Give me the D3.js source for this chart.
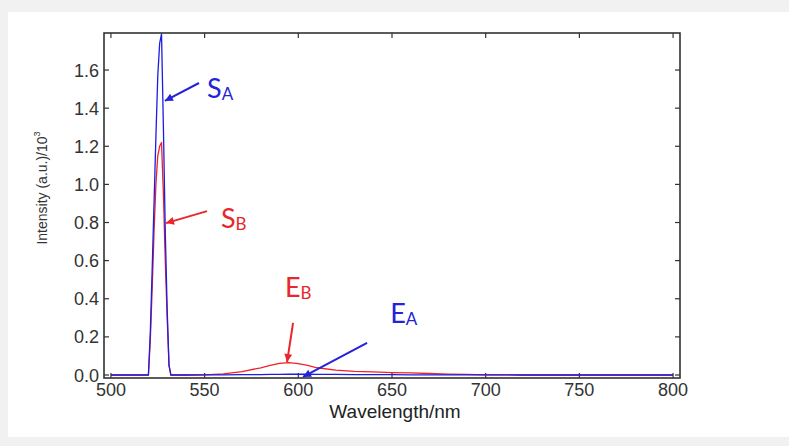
<!DOCTYPE html>
<html>
<head>
<meta charset="utf-8">
<script src="https://cdn.jsdelivr.net/npm/d3@7"></script>
<style>
  html, body { margin: 0; padding: 0; background: #f1f1f1; }
  svg { display: block; }
</style>
</head>
<body>
<script>
// wavelength grid (nm)
const wavelengths = [500, 510, 519, 520, 521, 522, 523, 524, 525, 526, 527, 528, 529, 530, 531, 532, 540, 550, 560, 570, 580, 585, 590, 595, 600, 605, 610, 620, 630, 640, 650, 660, 670, 680, 690, 700, 720, 750, 800];

// intensity (a.u.)/10^3
const seriesA = [0, 0, 0, 0, 0.22, 0.55, 0.9, 1.25, 1.57, 1.74, 1.79, 1.3, 0.75, 0.35, 0.05, 0, 0, 0.001, 0.001, 0.002, 0.002, 0.003, 0.003, 0.004, 0.004, 0.004, 0.003, 0.003, 0.002, 0.002, 0.002, 0.001, 0.001, 0.001, 0.001, 0.001, 0, 0, 0];
const seriesB = [0, 0, 0, 0, 0.18, 0.45, 0.75, 1.0, 1.15, 1.2, 1.22, 0.95, 0.6, 0.3, 0.05, 0, 0, 0.001, 0.006, 0.018, 0.038, 0.05, 0.061, 0.065, 0.06, 0.05, 0.038, 0.026, 0.019, 0.016, 0.013, 0.011, 0.008, 0.005, 0.003, 0.001, 0, 0, 0];

const xTicks = [500, 550, 600, 650, 700, 750, 800];
const yTicks = [0, 0.2, 0.4, 0.6, 0.8, 1.0, 1.2, 1.4, 1.6];

// annotation labels: text anchor and arrow (from -> to), in data units
const annotations = [
  { main: "S", sub: "A", color: "#2323d8", tx: 551.3, ty: 1.453, from: [547, 1.532], to: [528.8, 1.438] },
  { main: "S", sub: "B", color: "#e8262b", tx: 558.7, ty: 0.771, from: [551.3, 0.86], to: [529.4, 0.797] },
  { main: "E", sub: "B", color: "#e8262b", tx: 592.9, ty: 0.409, from: [597.2, 0.273], to: [594, 0.068] },
  { main: "E", sub: "A", color: "#2323d8", tx: 649, ty: 0.273, from: [636.7, 0.168], to: [602.5, -0.01] }
];

const width = 789, height = 446;
const plot = { left: 104, top: 33, right: 680, bottom: 378 };

const svg = d3.select("body").append("svg")
  .attr("width", width)
  .attr("height", height);

svg.append("rect")
  .attr("x", 8).attr("y", 12)
  .attr("width", width - 8).attr("height", 425)
  .attr("fill", "#fff");

const x = d3.scaleLinear().domain([496.3, 803.7]).range([plot.left, plot.right]);
const y = d3.scaleLinear().domain([-0.0157, 1.7943]).range([plot.bottom, plot.top]);

const axisColor = "#333";
const tickFont = "'Liberation Sans', Arial, sans-serif";

// inward ticks on all four sides
const axes = svg.append("g").attr("stroke", axisColor).attr("stroke-width", 1.2);
xTicks.forEach(t => {
  axes.append("line").attr("x1", x(t)).attr("x2", x(t)).attr("y1", plot.bottom).attr("y2", plot.bottom - 5);
  axes.append("line").attr("x1", x(t)).attr("x2", x(t)).attr("y1", plot.top).attr("y2", plot.top + 5);
});
yTicks.forEach(t => {
  axes.append("line").attr("x1", plot.left).attr("x2", plot.left + 5).attr("y1", y(t)).attr("y2", y(t));
  axes.append("line").attr("x1", plot.right).attr("x2", plot.right - 5).attr("y1", y(t)).attr("y2", y(t));
});

svg.append("g")
  .attr("font-family", tickFont)
  .attr("font-size", 18)
  .attr("fill", "#333")
  .attr("text-anchor", "middle")
  .selectAll("text")
  .data(xTicks)
  .join("text")
  .attr("x", d => x(d))
  .attr("y", 396)
  .text(d => d);

svg.append("g")
  .attr("font-family", tickFont)
  .attr("font-size", 18)
  .attr("fill", "#333")
  .attr("text-anchor", "end")
  .selectAll("text")
  .data(yTicks)
  .join("text")
  .attr("x", 99)
  .attr("y", d => y(d) + 6.5)
  .text(d => d.toFixed(1));

svg.append("text")
  .attr("x", (plot.left + plot.right) / 2 + 3)
  .attr("y", 418)
  .attr("text-anchor", "middle")
  .attr("font-family", tickFont)
  .attr("font-size", 19)
  .attr("fill", "#222")
  .text("Wavelength/nm");

const yl = svg.append("text")
  .attr("transform", "translate(47,188) rotate(-90)")
  .attr("text-anchor", "middle")
  .attr("font-family", tickFont)
  .attr("font-size", 14)
  .attr("fill", "#333");
yl.append("tspan").text("Intensity (a.u.)/10");
yl.append("tspan").attr("font-size", 9).attr("dy", -7).text("3");

const line = d3.line()
  .x((d, i) => x(wavelengths[i]))
  .y(d => y(d));

svg.append("path")
  .datum(seriesB)
  .attr("fill", "none")
  .attr("stroke", "#f0202a")
  .attr("stroke-width", 1.3)
  .attr("stroke-linejoin", "round")
  .attr("d", line);

svg.append("path")
  .datum(seriesA)
  .attr("fill", "none")
  .attr("stroke", "#1d1de0")
  .attr("stroke-width", 1.3)
  .attr("stroke-linejoin", "round")
  .attr("d", line);

// frame
svg.append("rect")
  .attr("x", plot.left).attr("y", plot.top)
  .attr("width", plot.right - plot.left).attr("height", plot.bottom - plot.top)
  .attr("fill", "none")
  .attr("stroke", axisColor)
  .attr("stroke-width", 1.6);

// arrow heads
const defs = svg.append("defs");
annotations.forEach((a, i) => {
  defs.append("marker")
    .attr("id", "arr" + i)
    .attr("viewBox", "0 0 10 10")
    .attr("refX", 10).attr("refY", 5)
    .attr("markerWidth", 11).attr("markerHeight", 8)
    .attr("markerUnits", "userSpaceOnUse")
    .attr("orient", "auto")
    .append("path")
    .attr("d", "M0,0L10,5L0,10z")
    .attr("fill", a.color);
});

const ann = svg.append("g");
annotations.forEach((a, i) => {
  ann.append("line")
    .attr("x1", x(a.from[0])).attr("y1", y(a.from[1]))
    .attr("x2", x(a.to[0])).attr("y2", y(a.to[1]))
    .attr("stroke", a.color)
    .attr("stroke-width", 2)
    .attr("marker-end", `url(#arr${i})`);
  const t = ann.append("text")
    .attr("x", x(a.tx))
    .attr("y", y(a.ty))
    .attr("font-family", "Lato, 'Open Sans', sans-serif")
    .attr("font-size", 27)
    .attr("fill", a.color);
  t.append("tspan").text(a.main);
  t.append("tspan").attr("font-size", 17).attr("dy", 2).text(a.sub);
});
</script>
</body>
</html>
